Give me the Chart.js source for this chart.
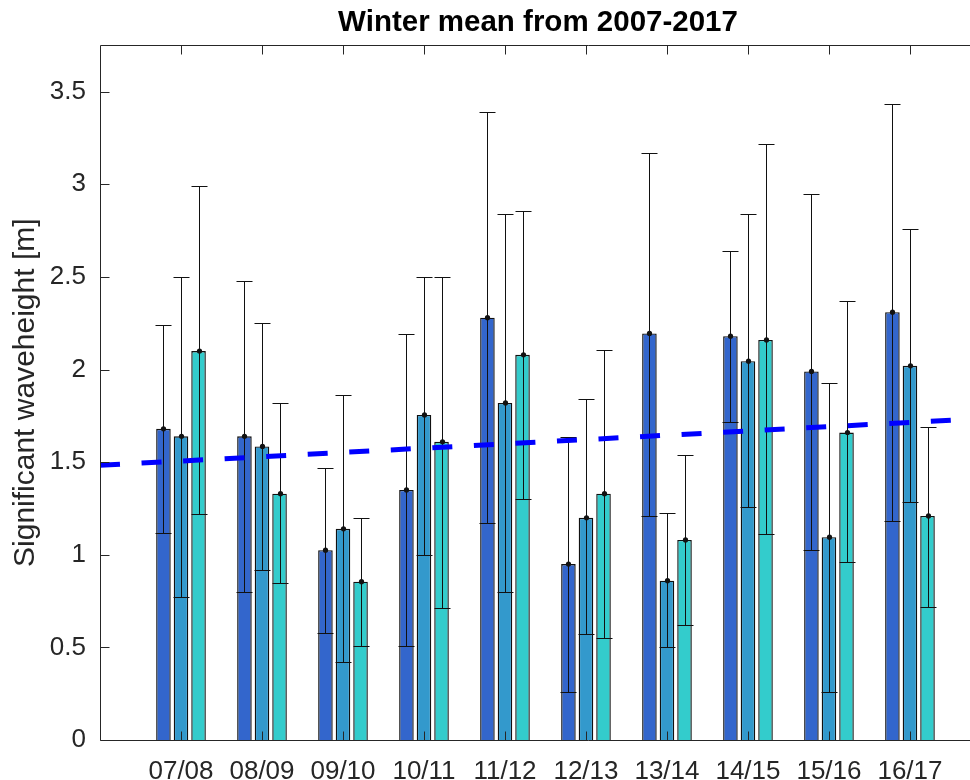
<!DOCTYPE html>
<html>
<head>
<meta charset="utf-8">
<script src="https://cdn.jsdelivr.net/npm/chart.js@4.4.1/dist/chart.umd.min.js"></script>
<style>
    html, body { margin: 0; padding: 0; background: #fff; overflow: hidden; }
    #wrap { width: 970px; height: 780px; overflow: hidden; }
    canvas { display: block; }
</style>
</head>
<body>
<div id="wrap"><canvas id="winter-chart" width="1076" height="780"></canvas></div>
<script>
// winters on the x axis (positions 1..10)
var winters = ["07/08", "08/09", "09/10", "10/11", "11/12", "12/13", "13/14", "14/15", "15/16", "16/17"];

// mean significant waveheight per winter, three series
var meanA = [1.68, 1.64, 1.025, 1.35, 2.28, 0.95, 2.195, 2.18, 1.99, 2.31];
var lowA  = [1.12, 0.80, 0.58, 0.51, 1.17, 0.26, 1.21, 1.715, 1.025, 1.18];
var highA = [2.24, 2.48, 1.47, 2.19, 3.39, 1.635, 3.17, 2.64, 2.95, 3.435];

var meanB = [1.64, 1.585, 1.14, 1.755, 1.82, 1.20, 0.86, 2.045, 1.095, 2.02];
var lowB  = [0.77, 0.92, 0.42, 1.00, 0.80, 0.57, 0.50, 1.26, 0.26, 1.285];
var highB = [2.50, 2.25, 1.86, 2.50, 2.84, 1.84, 1.225, 2.84, 1.925, 2.76];

var meanC = [2.10, 1.33, 0.855, 1.61, 2.08, 1.33, 1.08, 2.16, 1.66, 1.21];
var lowC  = [1.22, 0.85, 0.51, 0.71, 1.30, 0.55, 0.62, 1.11, 0.96, 0.72];
var highC = [2.99, 1.82, 1.20, 2.50, 2.855, 2.105, 1.54, 3.22, 2.37, 1.69];

// trend line, value at x = 0 and x = 11 (edges of the original axes)
var trendX = [0, 11];
var trendY = [1.483, 1.738];

var yTicks = [0, 0.5, 1, 1.5, 2, 2.5, 3, 3.5];

function toPoints(arr) {
    return arr.map(function (v, i) { return { x: i + 1, y: v }; });
}

var FONT = "'Liberation Sans', Arial, sans-serif";

const errorBars = {
    id: "errorBars",
    afterDatasetDraw: function (chart, args) {
        var meta = args.meta;
        if (meta.type !== "bar") return;
        var ds = chart.data.datasets[args.index];
        var y = chart.scales.y;
        var ctx = chart.ctx;
        ctx.save();
        ctx.strokeStyle = "#111";
        ctx.fillStyle = "#111";
        ctx.lineWidth = 1;
        meta.data.forEach(function (bar, j) {
            var x = Math.round(bar.x) + 0.5;
            var yLo = Math.round(y.getPixelForValue(ds.errLow[j])) + 0.5;
            var yHi = Math.round(y.getPixelForValue(ds.errHigh[j])) + 0.5;
            ctx.beginPath();
            ctx.moveTo(x, yLo);
            ctx.lineTo(x, yHi);
            ctx.moveTo(x - 8, yLo);
            ctx.lineTo(x + 8, yLo);
            ctx.moveTo(x - 8, yHi);
            ctx.lineTo(x + 8, yHi);
            ctx.stroke();
            ctx.beginPath();
            ctx.arc(x, bar.y, 2.6, 0, Math.PI * 2);
            ctx.fill();
        });
        ctx.restore();
    }
};

// box: left, top and bottom edges (right edge is outside the picture)
const axesBox = {
    id: "axesBox",
    afterDraw: function (chart) {
        var ctx = chart.ctx;
        var a = chart.chartArea;
        var x = chart.scales.x;
        var y = chart.scales.y;
        var l = Math.round(a.left) + 0.5;
        var t = Math.round(a.top) + 0.5;
        var b = Math.round(a.bottom) + 0.5;
        ctx.save();
        ctx.strokeStyle = "#262626";
        ctx.lineWidth = 1;
        ctx.beginPath();
        ctx.moveTo(chart.width, t);
        ctx.lineTo(l, t);
        ctx.lineTo(l, b);
        ctx.lineTo(chart.width, b);
        x.ticks.forEach(function (tk, i) {
            var px = Math.round(x.getPixelForTick(i)) + 0.5;
            ctx.moveTo(px, b);
            ctx.lineTo(px, b - 9);
            ctx.moveTo(px, t);
            ctx.lineTo(px, t + 9);
        });
        y.ticks.forEach(function (tk, i) {
            var py = Math.round(y.getPixelForTick(i)) + 0.5;
            ctx.moveTo(l, py);
            ctx.lineTo(l + 9, py);
        });
        ctx.stroke();
        ctx.restore();
    }
};

function barSet(label, mean, low, high, colour) {
    return {
        label: label,
        data: toPoints(mean),
        errLow: low,
        errHigh: high,
        backgroundColor: colour,
        borderColor: "#111",
        borderWidth: 1.4
    };
}

var ChartData = {
    datasets: [
        {
            type: "line",
            label: "trend",
            data: trendX.map(function (v, i) { return { x: v, y: trendY[i] }; }),
            borderColor: "#0000ff",
            borderWidth: 5,
            borderDash: [20, 21.6],
            pointRadius: 0,
            order: -1
        },
        barSet("A", meanA, lowA, highA, "#3366cc"),
        barSet("B", meanB, lowB, highB, "#3399cc"),
        barSet("C", meanC, lowC, highC, "#33cccc")
    ]
};

var Charts = new Chart(document.getElementById("winter-chart"), {
    type: "bar",
    data: ChartData,
    options: {
        responsive: false,
        animation: false,
        events: [],
        categoryPercentage: 0.65,
        barPercentage: 0.83,
        layout: { padding: 0 },
        plugins: {
            legend: { display: false },
            tooltip: { enabled: false },
            title: {
                display: true,
                text: "Winter mean from 2007-2017",
                color: "#000",
                font: { family: FONT, size: 29.5, weight: "bold" },
                padding: { top: 5, bottom: 5 }
            }
        },
        scales: {
            x: {
                type: "linear",
                min: 0,
                max: 12.05,
                offset: false,
                grid: { display: false },
                border: { display: false },
                afterBuildTicks: function (scale) {
                    scale.ticks = winters.map(function (w, i) { return { value: i + 1 }; });
                },
                ticks: {
                    autoSkip: false,
                    maxRotation: 0,
                    padding: 8,
                    color: "#262626",
                    font: { family: FONT, size: 26 },
                    callback: function (v) { return winters[v - 1]; }
                },
                afterFit: function (scale) { scale.height = 40; }
            },
            y: {
                min: 0,
                max: 3.75,
                grid: { display: false },
                border: { display: false },
                afterBuildTicks: function (scale) {
                    scale.ticks = yTicks.map(function (v) { return { value: v }; });
                },
                ticks: {
                    padding: 6,
                    color: "#262626",
                    font: { family: FONT, size: 26 },
                    callback: function (v) { return String(v); }
                },
                title: {
                    display: true,
                    text: "Significant waveheight [m]",
                    color: "#262626",
                    padding: { top: 8, bottom: 0 },
                    font: { family: FONT, size: 30 }
                },
                afterFit: function (scale) { scale.width = 100; }
            }
        }
    },
    plugins: [errorBars, axesBox]
});
</script>
</body>
</html>
